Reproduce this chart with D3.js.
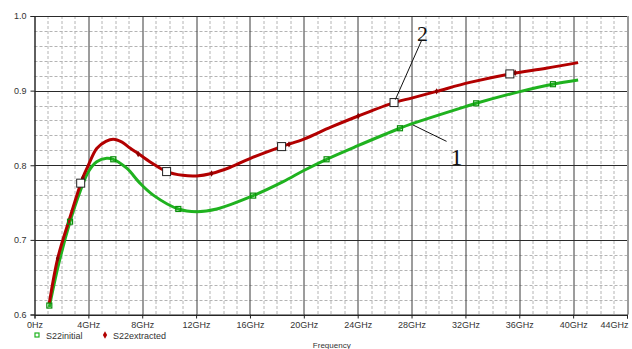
<!DOCTYPE html>
<html>
<head>
<meta charset="utf-8">
<script src="https://cdn.jsdelivr.net/npm/d3@7"></script>
<style>
  body { margin: 0; background: #fff; }
</style>
</head>
<body>
<div></div>
<script>
// S22 curves (GHz, magnitude)
const initialFreq = [1.1, 1.8, 2.64, 3.38, 4.0, 4.62, 5.36, 5.85, 6.85, 7.83, 8.82, 10.68, 12.04, 13.53, 16.24, 18.47, 20.0, 21.69, 23.97, 27.14, 28.0, 32.0, 32.8, 36.04, 38.5, 40.37];
const initialVal = [0.610, 0.668, 0.7244, 0.7646, 0.7914, 0.8048, 0.8094, 0.808, 0.796, 0.776, 0.760, 0.7414, 0.7378, 0.7414, 0.7593, 0.778, 0.793, 0.808, 0.8259, 0.8496, 0.8554, 0.8786, 0.883, 0.8987, 0.9086, 0.9143];

const extractedFreq = [1.1, 1.72, 2.58, 3.58, 4.0, 4.62, 5.3, 5.85, 6.5, 7.09, 7.83, 8.8, 9.81, 11.0, 12.04, 13.15, 14.5, 16.0, 18.35, 20.0, 22.0, 24.04, 26.7, 28.0, 29.86, 32.33, 35.3, 38.0, 40.37];
const extractedVal = [0.615, 0.675, 0.727, 0.783, 0.800, 0.8225, 0.832, 0.835, 0.831, 0.823, 0.814, 0.802, 0.7915, 0.7865, 0.7857, 0.789, 0.797, 0.809, 0.825, 0.835, 0.851, 0.866, 0.884, 0.890, 0.899, 0.911, 0.9224, 0.930, 0.9375];

// marker symbols sitting on the traces
const greenMarkF = [1.1, 2.64, 5.85, 10.68, 16.24, 21.69, 27.14, 32.8, 38.5];
const greenMarkV = [0.612, 0.7244, 0.808, 0.7414, 0.7593, 0.808, 0.8496, 0.883, 0.9086];
const redMarkF = [1.72, 3.58, 7.7, 13.15, 18.9, 24.04, 29.86, 35.7];
const redMarkV = [0.675, 0.783, 0.815, 0.789, 0.828, 0.866, 0.899, 0.924];
const boxMarkF = [3.43, 9.81, 18.35, 26.7, 35.3];
const boxMarkV = [0.776, 0.7915, 0.825, 0.884, 0.9224];

const xTicks = [0, 4, 8, 12, 16, 20, 24, 28, 32, 36, 40, 44];
const yTicks = [0.6, 0.7, 0.8, 0.9, 1.0];
const legendNames = ["S22initial", "S22extracted"];

const W = 632, H = 349;
const margin = { top: 16, right: 5, bottom: 34.5, left: 34.5 };
const width = W - margin.left - margin.right,
      height = H - margin.top - margin.bottom;
const sans = "Liberation Sans, Arial, sans-serif";
const serif = "Liberation Serif, Times New Roman, serif";

const svg = d3.select("div").append("svg")
    .attr("width", W)
    .attr("height", H)
    .style("font-family", sans);

const g = svg.append("g")
    .attr("transform", "translate(" + margin.left + "," + margin.top + ")");

const x = d3.scaleLinear().domain([0, 44]).range([0, width]);
const y = d3.scaleLinear().domain([0.6, 1.0]).range([height, 0]);

const px = v => Math.round(v) + 0.5;

// minor grid
g.append("g").selectAll("line")
    .data(d3.range(1, 44).filter(d => d % 4 !== 0))
    .join("line")
    .attr("x1", d => px(x(d))).attr("x2", d => px(x(d)))
    .attr("y1", 0).attr("y2", height)
    .attr("stroke", "#b4b4b4").attr("stroke-dasharray", "3,2");

g.append("g").selectAll("line")
    .data(d3.range(0.62, 1.0, 0.02).filter((d, i) => (i + 1) % 5 !== 0))
    .join("line")
    .attr("x1", 0).attr("x2", width)
    .attr("y1", d => px(y(d))).attr("y2", d => px(y(d)))
    .attr("stroke", "#b4b4b4").attr("stroke-dasharray", "3,2");

// major grid
g.append("g").selectAll("line")
    .data(xTicks)
    .join("line")
    .attr("x1", d => px(x(d))).attr("x2", d => px(x(d)))
    .attr("y1", 0).attr("y2", height)
    .attr("stroke", "#3a3a3a");

g.append("g").selectAll("line")
    .data(yTicks)
    .join("line")
    .attr("x1", 0).attr("x2", width)
    .attr("y1", d => px(y(d))).attr("y2", d => px(y(d)))
    .attr("stroke", "#2a2a2a");

// axes
const xAxis = g.append("g")
    .attr("transform", "translate(0," + height + ")")
    .call(d3.axisBottom(x).tickValues(xTicks).tickSize(4).tickPadding(3)
        .tickFormat(d => d === 0 ? "0Hz" : d + "GHz"));
const yAxis = g.append("g")
    .call(d3.axisLeft(y).tickValues(yTicks).tickSize(4).tickPadding(4)
        .tickFormat(d3.format(".1f")));
[xAxis, yAxis].forEach(a => {
    a.selectAll("text").attr("font-size", 9).attr("fill", "#333")
        .style("font-family", sans);
    a.selectAll("line").attr("stroke", "#222");
    a.select(".domain").attr("stroke", "#222");
});
// last label sits inside the frame
xAxis.selectAll(".tick text").filter(d => d === 44)
    .attr("text-anchor", "end").attr("dx", 1);

// traces
const line = d3.line()
    .curve(d3.curveCatmullRom.alpha(0.5))
    .x(d => x(d[0]))
    .y(d => y(d[1]));

const green = "#1fb21f", red = "#b20000";

g.append("path")
    .datum(d3.zip(initialFreq, initialVal))
    .attr("d", line)
    .attr("fill", "none").attr("stroke", green).attr("stroke-width", 3);

g.append("path")
    .datum(d3.zip(extractedFreq, extractedVal))
    .attr("d", line)
    .attr("fill", "none").attr("stroke", red).attr("stroke-width", 3);

// markers
g.append("g").selectAll("rect")
    .data(d3.zip(greenMarkF, greenMarkV))
    .join("rect")
    .attr("x", d => x(d[0]) - 2.5).attr("y", d => y(d[1]) - 2.5)
    .attr("width", 5).attr("height", 5)
    .attr("fill", "none").attr("stroke", "#0c900c").attr("stroke-width", 1.2);

g.append("g").selectAll("path")
    .data(d3.zip(redMarkF, redMarkV))
    .join("path")
    .attr("transform", d => "translate(" + x(d[0]) + "," + y(d[1]) + ")")
    .attr("d", d3.symbol(d3.symbolDiamond, 12))
    .attr("fill", "#8a0000");

g.append("g").selectAll("rect")
    .data(d3.zip(boxMarkF, boxMarkV))
    .join("rect")
    .attr("x", d => x(d[0]) - 4).attr("y", d => y(d[1]) - 4)
    .attr("width", 8).attr("height", 8)
    .attr("fill", "#fff").attr("stroke", "#222").attr("stroke-width", 1);

// callouts "1" and "2"
g.append("line")
    .attr("x1", x(28.75)).attr("y1", y(0.9675))
    .attr("x2", x(26.8)).attr("y2", y(0.888))
    .attr("stroke", "#111").attr("stroke-width", 1);
g.append("text")
    .attr("x", x(28.4)).attr("y", y(0.966))
    .style("font-family", serif).attr("font-size", 22)
    .attr("fill", "#111").text("2");

g.append("line")
    .attr("x1", x(28.1)).attr("y1", y(0.854))
    .attr("x2", x(30.6)).attr("y2", y(0.832))
    .attr("stroke", "#111").attr("stroke-width", 1);
g.append("text")
    .attr("x", x(30.9)).attr("y", y(0.8))
    .style("font-family", serif).attr("font-size", 24)
    .attr("fill", "#111").text("1");

// legend
const leg = svg.append("g");
leg.append("rect")
    .attr("x", 35).attr("y", 333).attr("width", 4).attr("height", 4)
    .attr("fill", "none").attr("stroke", green).attr("stroke-width", 1.2);
leg.append("text")
    .attr("x", 46).attr("y", 338.5).attr("font-size", 9).attr("fill", "#333")
    .text(legendNames[0]);
leg.append("path")
    .attr("transform", "translate(105,335)")
    .attr("d", d3.symbol(d3.symbolDiamond, 16))
    .attr("fill", red);
leg.append("text")
    .attr("x", 113).attr("y", 338.5).attr("font-size", 9).attr("fill", "#333")
    .text(legendNames[1]);

svg.append("text")
    .attr("x", margin.left + width / 2 + 1).attr("y", 348)
    .attr("text-anchor", "middle").attr("font-size", 8).attr("fill", "#333")
    .text("Frequency");
</script>
</body>
</html>
